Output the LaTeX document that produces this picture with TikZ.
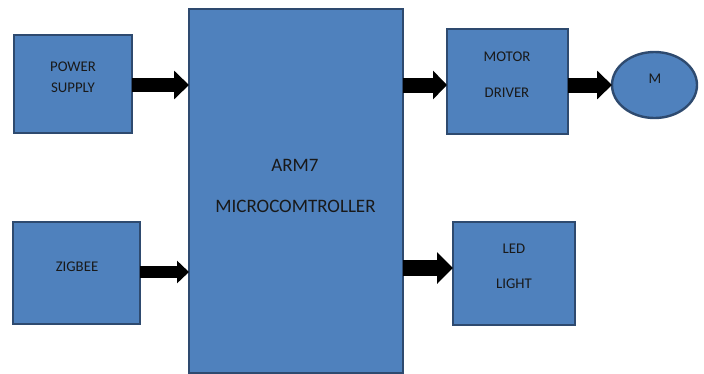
\documentclass[tikz,border=0pt]{standalone}
\usepackage{fontspec}
\setmainfont{Carlito}
\usetikzlibrary{arrows.meta,shapes.geometric}
\definecolor{boxfill}{HTML}{4F81BD}
\definecolor{boxline}{HTML}{2E4A6F}
\begin{document}
\begin{tikzpicture}[x=1pt,y=-1pt,
  blockbox/.style={draw=boxline,fill=boxfill,line width=2.4pt,inner sep=0pt,outer sep=0pt,minimum width=#1},
  smalltxt/.style={font=\fontsize{14.8}{16}\selectfont,anchor=base,inner sep=0pt,text=black!90},
  bigtxt/.style={font=\fontsize{19}{21}\selectfont,anchor=base,inner sep=0pt,text=black!90}]
\useasboundingbox (0,0) rectangle (704,373);
% boxes
\node[blockbox=118pt,minimum height=98pt] (ps) at (73,84) {};
\node[blockbox=127pt,minimum height=102pt] (zb) at (76.5,273) {};
\node[blockbox=214pt,minimum height=364pt] (mc) at (296,191) {};
\node[blockbox=121pt,minimum height=105pt] (md) at (507.5,81.5) {};
\node[blockbox=122pt,minimum height=103pt] (led) at (514,273.5) {};
\node[draw=boxline,fill=boxfill,line width=2.4pt,ellipse,inner sep=0pt,outer sep=0pt,minimum width=85pt,minimum height=66pt] (m) at (654.5,85) {};
% texts
\node[smalltxt] (t1) at (73,71) {POWER};
\node[smalltxt] (t2) at (73,92) {SUPPLY};
\node[smalltxt] (t3) at (77,271) {ZIGBEE};
\node[smalltxt] (t4) at (507,61) {MOTOR};
\node[smalltxt] (t5) at (507,97) {DRIVER};
\node[smalltxt] (t6) at (655,83) {M};
\node[smalltxt] (t7) at (514,253) {LED};
\node[smalltxt] (t8) at (514,288) {LIGHT};
\node[bigtxt] (t9) at (295,171) {ARM7};
\node[bigtxt] (t10) at (295.5,212) {MICROCOMTROLLER};
% arrows
\draw[line width=14pt,-{Triangle[length=15pt,width=28pt]}] ([yshift=-1pt]ps.east) -- ([yshift=-1pt]ps.east -| mc.west);
\draw[line width=12pt,-{Triangle[length=12pt,width=22pt]}] ([yshift=1pt]zb.east) -- ([yshift=1pt]zb.east -| mc.west);
\draw[line width=15pt,-{Triangle[length=14pt,width=28pt]}] ([yshift=-3.5pt]md.west -| mc.east) -- ([yshift=-3.5pt]md.west);
\draw[line width=15pt,-{Triangle[length=15pt,width=28pt]}] (m.west -| md.east) -- (m.west);
\draw[line width=16pt,-{Triangle[length=16pt,width=31pt]}] ([yshift=5.5pt]led.west -| mc.east) -- ([yshift=5.5pt]led.west);
\end{tikzpicture}
\end{document}
